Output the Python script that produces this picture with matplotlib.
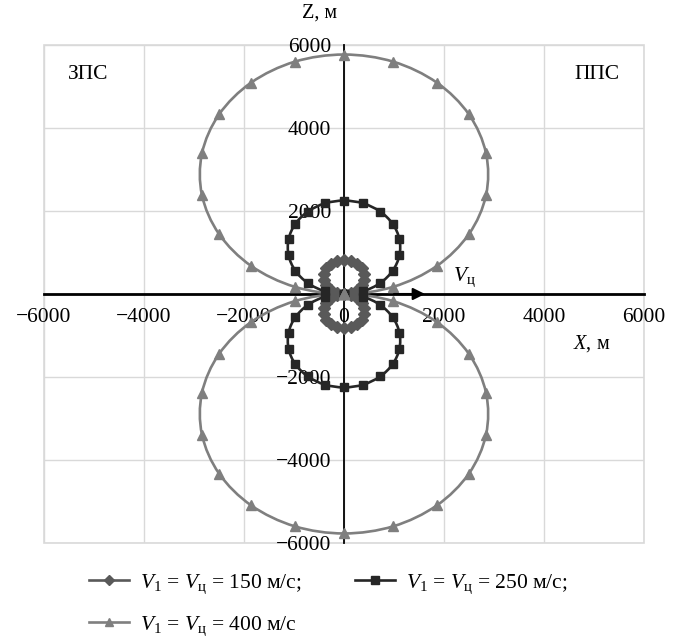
import numpy as np
import matplotlib
matplotlib.use("Agg")
import matplotlib.pyplot as plt
from matplotlib.path import Path
from matplotlib.patches import PathPatch, Rectangle
from matplotlib.lines import Line2D

plt.rcParams["font.family"] = ["Liberation Serif", "DejaVu Serif"]
plt.rcParams["mathtext.fontset"] = "custom"
plt.rcParams["mathtext.rm"] = "Liberation Serif"
plt.rcParams["mathtext.it"] = "Liberation Serif:italic"
plt.rcParams["mathtext.bf"] = "Liberation Serif:bold"

# ---- data: boundary of launch zone, X and Z in metres ----
# V1 = Vц = 150 m/s
x150_up = [0, 140, 264, 355, 404, 404, 355, 264, 140, 0, -140, -264, -355, -404, -404, -355, -264, -140, 0]
z150_up = [0, 25, 96, 205, 339, 481, 615, 724, 795, 820, 795, 724, 615, 481, 339, 205, 96, 25, 0]
x150_dn = [0, 140, 264, 355, 404, 404, 355, 264, 140, 0, -140, -264, -355, -404, -404, -355, -264, -140, 0]
z150_dn = [0, -25, -96, -205, -339, -481, -615, -724, -795, -820, -795, -724, -615, -481, -339, -205, -96, -25, 0]

# V1 = Vц = 250 m/s
x250_up = [0, 385, 723, 974, 1108, 1108, 974, 723, 385, 0, -385, -723, -974, -1108, -1108, -974, -723, -385, 0]
z250_up = [0, 68, 263, 563, 929, 1321, 1688, 1987, 2183, 2250, 2183, 1987, 1688, 1321, 929, 563, 263, 68, 0]
x250_dn = [0, 385, 723, 974, 1108, 1108, 974, 723, 385, 0, -385, -723, -974, -1108, -1108, -974, -723, -385, 0]
z250_dn = [0, -68, -263, -563, -929, -1321, -1688, -1987, -2183, -2250, -2183, -1987, -1688, -1321, -929, -563, -263, -68, 0]

# V1 = Vц = 400 m/s
x400_up = [0, 987, 1855, 2498, 2841, 2841, 2498, 1855, 987, 0, -987, -1855, -2498, -2841, -2841, -2498, -1855, -987, 0]
z400_up = [0, 174, 675, 1443, 2384, 3386, 4328, 5095, 5597, 5770, 5597, 5095, 4328, 3386, 2384, 1443, 675, 174, 0]
x400_dn = [0, 987, 1855, 2498, 2841, 2841, 2498, 1855, 987, 0, -987, -1855, -2498, -2841, -2841, -2498, -1855, -987, 0]
z400_dn = [0, -174, -675, -1443, -2384, -3386, -4328, -5095, -5597, -5770, -5597, -5095, -4328, -3386, -2384, -1443, -675, -174, 0]

ticks = [-6000, -4000, -2000, 0, 2000, 4000, 6000]

series = [
    ("150", [(x150_up, z150_up), (x150_dn, z150_dn)], "#595959", "D", 6.3,
     r"$V_1$ = $V_\mathrm{ц}$ = 150 м/с;"),
    ("250", [(x250_up, z250_up), (x250_dn, z250_dn)], "#262626", "s", 6.2,
     r"$V_1$ = $V_\mathrm{ц}$ = 250 м/с;"),
    ("400", [(x400_up, z400_up), (x400_dn, z400_dn)], "#7f7f7f", "^", 7.0,
     r"$V_1$ = $V_\mathrm{ц}$ = 400 м/с"),
]


def smooth_path(xs, zs):
    """Closed smooth curve through the points (Catmull-Rom style Bezier)."""
    pts = np.column_stack([xs, zs]).astype(float)[:-1]  # last point repeats the first
    n = len(pts)
    verts = [pts[0]]
    codes = [Path.MOVETO]
    for i in range(n):
        p0 = pts[(i - 1) % n]
        p1 = pts[i]
        p2 = pts[(i + 1) % n]
        p3 = pts[(i + 2) % n]
        c1 = p1 + (p2 - p0) / 6.0
        c2 = p2 - (p3 - p1) / 6.0
        verts += [c1, c2, p2]
        codes += [Path.CURVE4] * 3
    return Path(verts, codes)


fig = plt.figure(figsize=(6.8, 6.37), dpi=100)
ax = fig.add_axes([44 / 680, 94 / 637, 600 / 680, 498 / 637])
ax.set_xlim(-6000, 6000)
ax.set_ylim(-6000, 6000)

# grid and frame
for t in ticks:
    ax.axvline(t, color="#d9d9d9", lw=1.0, zorder=0)
    ax.axhline(t, color="#d9d9d9", lw=1.0, zorder=0)
ax.add_patch(Rectangle((0, 0), 1, 1, transform=ax.transAxes, fill=False,
                       ec="#d9d9d9", lw=1.2, clip_on=False, zorder=0))

# axes through the origin
for side in ("top", "right"):
    ax.spines[side].set_visible(False)
ax.spines["left"].set_position(("data", 0))
ax.spines["bottom"].set_position(("data", 0))
ax.spines["left"].set_color("black")
ax.spines["bottom"].set_color("black")
ax.spines["left"].set_linewidth(1.3)
ax.spines["bottom"].set_linewidth(2.0)
ax.spines["left"].set_zorder(1)
ax.spines["bottom"].set_zorder(1)
ax.set_xticks(ticks)
ax.set_yticks(ticks)
ax.tick_params(axis="x", length=0, pad=10, labelsize=15.5)
ax.tick_params(axis="y", length=0, pad=9, labelsize=15.5)

# boundary curves
for name, loops, color, marker, ms, label in series:
    for xs, zs in loops:
        ax.add_patch(PathPatch(smooth_path(xs, zs), fill=False, ec=color,
                               lw=1.9, zorder=3))
        ax.plot(xs, zs, ls="none", marker=marker, ms=ms, color=color,
                mec=color, zorder=4, clip_on=False)

# target velocity arrow
ax.annotate("", xy=(1620, 0), xytext=(1000, 0),
            arrowprops=dict(arrowstyle="-|>", color="black", lw=1.5,
                            mutation_scale=18, shrinkA=0, shrinkB=0),
            zorder=5)
ax.text(2400, 400, r"$V_\mathrm{ц}$", fontsize=15.5, ha="center", va="center")

# axis captions and half-space labels
ax.text(-480, 6780, "Z, м", fontsize=14.5, ha="center", va="center", clip_on=False)
ax.text(4960, -1200, r"$X$, м", fontsize=14.5, ha="center", va="center")
ax.text(-5120, 5300, "ЗПС", fontsize=15.5, ha="center", va="center")
ax.text(5060, 5300, "ППС", fontsize=15.5, ha="center", va="center")

# legend (row 1: 150, 250; row 2: 400)
handles = {}
for name, loops, color, marker, ms, label in series:
    handles[name] = Line2D([], [], color=color, lw=1.9, marker=marker,
                           ms=ms * 0.85, mec=color, label=label)
order = ["150", "400", "250"]
fig.legend([handles[k] for k in order], [handles[k].get_label() for k in order],
           loc="upper left", bbox_to_anchor=(70 / 680, 1 - 553 / 637), ncol=2,
           frameon=False, fontsize=15.5, handlelength=1.85, columnspacing=2.5,
           labelspacing=0.85, handletextpad=0.5)

fig.savefig("out.png", dpi=100)
